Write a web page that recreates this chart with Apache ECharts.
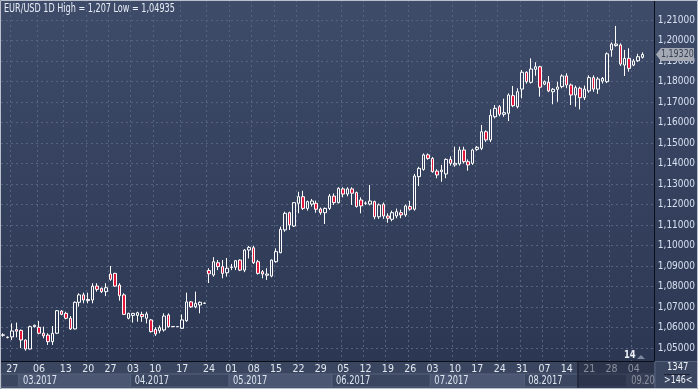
<!DOCTYPE html>
<html><head><meta charset="utf-8">
<script src="https://cdn.jsdelivr.net/npm/echarts@6/dist/echarts.min.js"></script>
<style>
html,body{margin:0;padding:0;background:#2f3b56;}
#c{width:698px;height:389px;background:linear-gradient(to bottom,#3e4b69 0px,#2c3853 361px,#3a4660 361px,#3a4660 389px);}
</style>
</head><body><div id="c"></div>
<script>
const categories = ['02-23','02-24','02-27','02-28',
'03-01','03-02','03-03','03-05','03-06','03-07','03-08','03-09','03-10','03-12','03-13','03-14','03-15','03-16','03-17','03-20','03-21','03-22','03-23','03-24','03-27','03-28','03-29','03-30','03-31',
'04-03','04-04','04-05','04-06','04-07','04-10','04-11','04-12','04-13','04-14','04-16','04-17','04-18','04-19','04-20','04-21','04-23','04-24','04-25','04-26','04-27','04-28',
'05-01','05-02','05-03','05-04','05-05','05-08','05-09','05-10','05-11','05-12','05-15','05-16','05-17','05-18','05-19','05-22','05-23','05-24','05-25','05-26','05-29','05-30','05-31',
'06-01','06-02','06-05','06-06','06-07','06-08','06-09','06-12','06-13','06-14','06-15','06-16','06-19','06-20','06-21','06-22','06-23','06-26','06-27','06-28','06-29','06-30',
'07-03','07-04','07-05','07-06','07-07','07-10','07-11','07-12','07-13','07-14','07-17','07-18','07-19','07-20','07-21','07-24','07-25','07-26','07-27','07-28','07-31',
'08-01','08-02','08-03','08-04','08-07','08-08','08-09','08-10','08-11','08-14','08-15','08-16','08-17','08-18','08-21','08-22','08-23','08-24','08-25','08-28','08-29','08-30','08-31',
'09-01','09-04','09-05','09-06','09-07','09-08'];

const opens = [1.0562,1.0553,1.0554,1.0590,1.0586,1.0539,1.0495,1.0604,1.0601,1.0572,1.0563,1.0531,1.0572,1.0680,1.0669,1.0645,1.0593,1.0723,1.0759,1.0737,
1.0734,1.0802,1.0791,1.0775,1.0861,1.0864,1.0807,1.0759,1.0645,1.0659,1.0659,1.0664,1.0645,1.0637,1.0591,1.0584,1.0588,1.0661,1.0604,1.0604,
1.0596,1.0633,1.0725,1.0701,1.0710,1.0718,1.0878,1.0856,1.0916,1.0897,1.0867,1.0893,1.0894,1.0929,1.0880,1.0978,1.0989,1.0921,1.0872,1.0855,
1.0851,1.0921,1.0965,1.1076,1.1160,1.1095,1.1206,1.1238,1.1181,1.1202,1.1206,1.1178,1.1160,1.1181,1.1241,1.1209,1.1276,1.1251,1.1276,1.1258,
1.1222,1.1206,1.1202,1.1214,1.1140,1.1201,1.1144,1.1128,1.1144,1.1160,1.1149,1.1190,1.1177,1.1336,1.1371,1.1442,1.1425,1.1363,1.1360,1.1349,
1.1420,1.1393,1.1398,1.1466,1.1409,1.1401,1.1469,1.1474,1.1555,1.1515,1.1628,1.1677,1.1640,1.1645,1.1731,1.1677,1.1763,1.1845,1.1796,1.1859,
1.1872,1.1787,1.1796,1.1750,1.1762,1.1775,1.1827,1.1783,1.1734,1.1767,1.1721,1.1754,1.1819,1.1763,1.1802,1.1799,1.1954,1.1975,1.1978,1.1880,
1.1913,1.1880,1.1901,1.1918];
const closes = [1.0564,1.0551,1.0583,1.0582,1.0539,1.0495,1.0604,1.0611,1.0572,1.0559,1.0531,1.0572,1.0682,1.0664,1.0645,1.0593,1.0723,1.0759,1.0734,1.0731,
1.0802,1.0786,1.0775,1.0794,1.0835,1.0802,1.0755,1.0664,1.0669,1.0669,1.0672,1.0653,1.0666,1.0580,1.0568,1.0599,1.0656,1.0604,1.0605,1.0605,
1.0637,1.0725,1.0701,1.0718,1.0723,1.0719,1.0862,1.0921,1.0897,1.0864,1.0889,1.0895,1.0926,1.0880,1.0978,1.0991,1.0916,1.0864,1.0861,1.0861,
1.0929,1.0970,1.1079,1.1157,1.1100,1.1209,1.1238,1.1181,1.1214,1.1217,1.1177,1.1160,1.1181,1.1241,1.1209,1.1279,1.1251,1.1276,1.1255,1.1190,
1.1193,1.1207,1.1217,1.1140,1.1198,1.1144,1.1133,1.1160,1.1165,1.1149,1.1193,1.1177,1.1339,1.1376,1.1442,1.1425,1.1360,1.1344,1.1368,1.1420,
1.1401,1.1401,1.1466,1.1409,1.1393,1.1466,1.1479,1.1555,1.1515,1.1635,1.1669,1.1640,1.1648,1.1734,1.1682,1.1750,1.1845,1.1799,1.1861,1.1872,
1.1772,1.1799,1.1754,1.1762,1.1773,1.1827,1.1783,1.1734,1.1770,1.1721,1.1763,1.1819,1.1763,1.1812,1.1815,1.1935,1.1983,1.1983,1.1885,1.1913,
1.1864,1.1900,1.1921,1.1932];
const lows = [1.0555,1.0547,1.0539,1.0552,1.0500,1.0487,1.0493,1.0600,1.0567,1.0547,1.0515,1.0515,1.0568,1.0660,1.0640,1.0588,1.0591,1.0702,1.0718,1.0718,
1.0718,1.0775,1.0768,1.0753,1.0828,1.0799,1.0731,1.0661,1.0640,1.0624,1.0628,1.0628,1.0620,1.0575,1.0559,1.0572,1.0580,1.0599,1.0603,1.0603,
1.0593,1.0628,1.0696,1.0694,1.0669,1.0715,1.0817,1.0848,1.0880,1.0840,1.0848,1.0880,1.0880,1.0875,1.0870,1.0937,1.0910,1.0858,1.0840,1.0832,
1.0845,1.0916,1.0962,1.1067,1.1076,1.1090,1.1157,1.1173,1.1170,1.1190,1.1160,1.1150,1.1105,1.1173,1.1198,1.1205,1.1235,1.1240,1.1198,1.1185,
1.1157,1.1198,1.1196,1.1128,1.1130,1.1130,1.1111,1.1118,1.1133,1.1133,1.1140,1.1170,1.1170,1.1290,1.1365,1.1418,1.1355,1.1328,1.1311,1.1328,
1.1390,1.1384,1.1390,1.1400,1.1365,1.1393,1.1462,1.1465,1.1505,1.1505,1.1620,1.1630,1.1628,1.1607,1.1675,1.1669,1.1718,1.1790,1.1790,1.1828,
1.1726,1.1782,1.1748,1.1689,1.1701,1.1767,1.1767,1.1685,1.1677,1.1664,1.1710,1.1745,1.1750,1.1740,1.1790,1.1792,1.1921,1.1970,1.1876,1.1827,
1.1848,1.1875,1.1895,1.1912];
const highs = [1.0572,1.0556,1.0620,1.0624,1.0590,1.0541,1.0609,1.0614,1.0632,1.0604,1.0572,1.0607,1.0685,1.0685,1.0677,1.0656,1.0727,1.0767,1.0770,1.0770,
1.0816,1.0816,1.0795,1.0816,1.0900,1.0867,1.0816,1.0767,1.0672,1.0671,1.0677,1.0677,1.0677,1.0641,1.0601,1.0610,1.0669,1.0669,1.0606,1.0606,
1.0664,1.0770,1.0729,1.0775,1.0727,1.0721,1.0889,1.0943,1.0929,1.0929,1.0939,1.0910,1.0929,1.0932,1.0982,1.0998,1.0999,1.0930,1.0880,1.0889,
1.0932,1.0986,1.1092,1.1165,1.1165,1.1212,1.1262,1.1267,1.1219,1.1227,1.1219,1.1185,1.1185,1.1251,1.1254,1.1284,1.1284,1.1284,1.1284,1.1263,
1.1235,1.1215,1.1295,1.1219,1.1205,1.1210,1.1157,1.1170,1.1180,1.1175,1.1200,1.1218,1.1349,1.1384,1.1449,1.1449,1.1432,1.1372,1.1393,1.1425,
1.1435,1.1482,1.1482,1.1482,1.1420,1.1472,1.1485,1.1588,1.1562,1.1664,1.1685,1.1685,1.1716,1.1742,1.1778,1.1767,1.1856,1.1850,1.1913,1.1894,
1.1877,1.1805,1.1827,1.1768,1.1799,1.1835,1.1840,1.1790,1.1780,1.1775,1.1780,1.1830,1.1830,1.1822,1.1822,1.1942,1.1991,1.2071,1.1986,1.1954,
1.1962,1.1910,1.1935,1.1942];

const dayTickDates = ['02-27','03-06','03-13','03-20','03-27','04-03','04-10','04-17','04-24','05-01','05-08','05-15','05-22','05-29',
'06-05','06-12','06-19','06-26','07-03','07-10','07-17','07-24','07-31','08-07','08-14','08-21','08-28','09-04'];
const monthStarts = ['03-01','04-03','05-01','06-01','07-03','08-01','09-01'];
const monthLabels = ['03.2017','04.2017','05.2017','06.2017','07.2017','08.2017','09.2017'];
const titleText = 'EUR/USD 1D High = 1,207 Low = 1,04935';
const lastPrice = 1.19320;
const selectionStart = '08-17';
const counterTop = '1347';
const counterBottom = '>146<';
const cursorLabel = '14';

const FONT = "'DejaVu Sans Condensed','Liberation Sans',sans-serif";
const ohlc = opens.map((o, i) => [o, closes[i], lows[i], highs[i]]);
const isTick = (idx, val) => dayTickDates.indexOf(val) >= 0;
const fmt = v => v.toFixed(5).replace('.', ',');

const chart = echarts.init(document.getElementById('c'), null, {renderer: 'canvas'});
const option = {
  animation: false,
  backgroundColor: 'transparent',
  grid: [
    {left: 1, right: 44, top: 20, bottom: 41},
    {left: 1, right: 44, top: 0, bottom: 28}
  ],
  xAxis: [
    {type: 'category', gridIndex: 0, data: categories, boundaryGap: true, show: false},
    {type: 'category', gridIndex: 1, data: categories, boundaryGap: true,
     axisLine: {show: true, lineStyle: {color: '#0a0e16', width: 1}},
     axisTick: {show: false},
     axisLabel: {interval: isTick, formatter: v => v.slice(3), color: '#e2e8f2', fontSize: 10.5, fontFamily: FONT, margin: 3},
     splitLine: {show: true, interval: isTick, lineStyle: {color: '#56637f', type: [2, 3], width: 1}}}
  ],
  yAxis: [
    {type: 'value', gridIndex: 0, position: 'right', min: 1.05, max: 1.21, interval: 0.01,
     axisLine: {show: false}, axisTick: {show: false},
     axisLabel: {formatter: fmt, color: '#d6e0f0', fontSize: 10, fontFamily: FONT, margin: 4},
     splitLine: {show: true, lineStyle: {color: '#56637f', type: [2, 3], width: 1}}},
    {type: 'value', gridIndex: 1, position: 'right', min: 0, max: 1,
     axisLine: {show: true, lineStyle: {color: '#0a0e16', width: 1}}, axisTick: {show: false},
     axisLabel: {show: false}, splitLine: {show: false}}
  ],
  series: [{
    type: 'candlestick', xAxisIndex: 0, yAxisIndex: 0, data: ohlc, barWidth: 3, clip: false,
    itemStyle: {color: 'rgba(0,0,0,0)', color0: '#e3163b', borderColor: '#ffffff', borderColor0: '#ffffff', borderWidth: 1}
  }]
};
chart.setOption(option);

// narrow text helper (the original uses a condensed UI font)
const ntext = (x, y, text, size, fill, sx, z, weight) => ({
  type: 'text', z: z || 30, x: x, y: y, scaleX: sx, originX: 0, originY: 0,
  style: {text: text, x: 0, y: 0, fill: fill, font: (weight || 'normal') + ' ' + size + 'px ' + FONT, verticalAlign: 'top', align: 'left'}
});

// decorations positioned with the library's own scales
const xc = i => chart.convertToPixel({xAxisIndex: 1}, i);
const band = xc(1) - xc(0);
const edge = i => xc(i) - band / 2;
const gx = [];
gx.push(ntext(4, 3, titleText, 12, '#e8eef8', 0.75, 30));
const rowTop = 374, rowBot = 387;
const lastEdge = edge(categories.length - 1) + band;
const bounds = [edge(0)].concat(monthStarts.map(d => edge(categories.indexOf(d)))).concat([lastEdge]);
for (let k = 0; k < bounds.length - 1; k++) {
  const light = (k % 2 === 0) ? false : true;
  gx.push({type: 'rect', z: -5, shape: {x: bounds[k], y: rowTop, width: bounds[k + 1] - bounds[k], height: rowBot - rowTop},
    style: {fill: light ? '#4b5772' : '#3a4660', stroke: '#56627c', lineWidth: 1}});
  if (k > 0) gx.push(ntext(bounds[k] + 4, rowTop + 1, monthLabels[k - 1], 11.5, '#dfe6f2', 0.8, 10));
}
const selX = edge(categories.indexOf(selectionStart));
gx.push({type: 'rect', z: 20, shape: {x: selX, y: 362, width: lastEdge - selX, height: 26}, style: {fill: 'rgba(28,34,50,0.45)'}});
gx.push({type: 'line', z: 21, shape: {x1: selX, y1: 362, x2: selX, y2: 388}, style: {stroke: '#20263a', lineWidth: 1.5}});
// current price tag
const py = chart.convertToPixel({yAxisIndex: 0}, lastPrice);
gx.push({type: 'polygon', z: 30, shape: {points: [[656, py], [661, py - 6.5], [694, py - 6.5], [694, py + 6.5], [661, py + 6.5]]},
  style: {fill: '#a4aab4'}});
gx.push(ntext(661, py - 6, fmt(lastPrice), 11, '#3a4254', 0.8, 31));
// cursor marker
gx.push(ntext(624, 350, cursorLabel, 11, '#eef2f8', 0.85, 30, 'bold'));
gx.push({type: 'polygon', z: 30, shape: {points: [[637, 359], [641, 355], [645, 359]]}, style: {fill: '#7c879e'}});
// counter box (covers the clipped month label)
gx.push({type: 'rect', z: 25, shape: {x: 655, y: 361.5, width: 43, height: 27}, style: {fill: '#3a4660', stroke: '#56627c', lineWidth: 1}});
gx.push(ntext(667, 362, counterTop, 11, '#eef2f8', 0.85, 30));
gx.push({type: 'line', z: 30, shape: {x1: 664, y1: 374.5, x2: 690, y2: 374.5}, style: {stroke: '#1c2234', lineWidth: 1}});
gx.push(ntext(664, 375, counterBottom, 11, '#eef2f8', 0.8, 30));
// outer frame
gx.push({type: 'rect', z: 40, shape: {x: 0.5, y: 0.5, width: 697, height: 388}, style: {fill: 'none', stroke: '#b9c0cc', lineWidth: 1}});
chart.setOption({graphic: gx});
</script>
</body></html>
